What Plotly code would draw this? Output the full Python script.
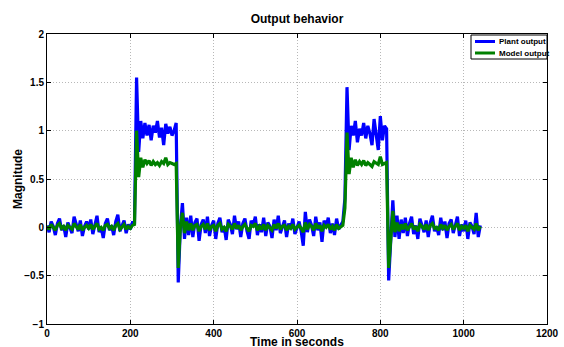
import numpy as np
import plotly.graph_objects as go

# ---- data (sampled every 5 s) ----
STEP = 5

plant_base1 = [0.02, -0.05, 0.06, 0.01, -0.08, 0.04, 0.09, -0.03, 0.02, -0.10,
               0.05, 0.00, -0.06, 0.11, 0.03, -0.04, 0.07, -0.09, 0.01, 0.06,
               -0.02, 0.08, -0.07, 0.03, 0.12, -0.05, 0.00, -0.11, 0.04, 0.09,
               -0.03, 0.02, -0.08, 0.06, 0.13, -0.04, 0.01, 0.07, -0.06, 0.03,
               -0.02, 0.05]
plant_high1 = [0.05, 1.55, 0.78, 1.10, 0.92, 1.08, 0.95, 1.06, 0.90, 1.05,
               0.98, 1.10, 0.93, 1.03, 0.85, 1.07, 0.97, 1.04, 0.95, 1.00,
               1.08]
plant_base2 = [-0.57, 0.00, 0.25, -0.12, 0.10, -0.08, 0.12, -0.10, 0.05, 0.09,
               -0.14, 0.03, 0.08, -0.06, 0.11, -0.09, 0.02, 0.07, -0.12, 0.04,
               0.10, -0.05, 0.01, -0.13, 0.08, 0.03, -0.07, 0.12, -0.02, 0.06,
               -0.10, 0.04, 0.09, -0.04, -0.12, 0.07, 0.02, 0.11, -0.08, 0.03,
               -0.05, 0.10, -0.09, 0.05, 0.01, -0.11, 0.08, -0.03, 0.12, -0.06,
               0.02, 0.07, -0.10, 0.04, -0.02, 0.09, -0.07, 0.01, 0.06, -0.04,
               -0.19, 0.16, -0.05, 0.08, 0.02, -0.09, 0.11, -0.03, 0.05, -0.15,
               0.07, 0.00, 0.10, -0.06, 0.04, -0.08, 0.09, -0.02, 0.03, 0.06]
plant_high2 = [0.30, 1.45, 0.80, 1.05, 0.95, 1.10, 0.88, 1.02, 0.95, 1.08,
               0.92, 1.05, 0.97, 0.85, 1.12, 0.98, 0.80, 1.15, 0.90, 1.05,
               1.02]
plant_base3 = [-0.55, -0.20, 0.28, -0.10, 0.12, -0.12, 0.08, -0.06, 0.10, -0.09,
               0.04, 0.11, -0.07, 0.02, -0.12, 0.09, 0.03, -0.05, 0.07, -0.10,
               0.05, 0.12, -0.04, 0.01, -0.08, 0.10, -0.03, 0.06, -0.11, 0.04,
               0.08, -0.06, 0.02, 0.11, -0.09, 0.03, -0.04, 0.07, -0.12, 0.05,
               0.01, -0.07, 0.15, -0.10, 0.02]

model_base1 = [0.01, -0.02, 0.03, 0.00, -0.03, 0.02, 0.04, -0.01, 0.01, -0.03,
               0.02, 0.00, -0.02, 0.04, 0.01, -0.02, 0.03, -0.03, 0.00, 0.02,
               -0.01, 0.03, -0.02, 0.01, 0.04, -0.02, 0.00, -0.03, 0.02, 0.03,
               -0.01, 0.01, -0.03, 0.02, 0.04, -0.02, 0.00, 0.03, -0.02, 0.01,
               -0.01, 0.02]
model_high1 = [0.03, 1.00, 0.52, 0.72, 0.62, 0.70, 0.66, 0.69, 0.64, 0.68,
               0.65, 0.67, 0.64, 0.68, 0.66, 0.72, 0.65, 0.67, 0.66, 0.65,
               0.66]
model_base2 = [-0.42, 0.00, 0.15, -0.06, 0.06, -0.03, 0.04, -0.03, 0.02, 0.03,
               -0.04, 0.01, 0.03, -0.02, 0.04, -0.03, 0.01, 0.02, -0.04, 0.02,
               0.04, -0.02, 0.00, -0.04, 0.03, 0.01, -0.02, 0.04, -0.01, 0.02,
               -0.03, 0.01, 0.03, -0.01, -0.04, 0.02, 0.01, 0.04, -0.03, 0.01,
               -0.02, 0.03, -0.03, 0.02, 0.00, -0.03, 0.03, -0.01, 0.04, -0.02,
               0.01, 0.02, -0.03, 0.01, -0.01, 0.03, -0.02, 0.00, 0.02, -0.01,
               -0.05, 0.05, -0.02, 0.03, 0.01, -0.03, 0.04, -0.01, 0.02, -0.04,
               0.02, 0.00, 0.03, -0.02, 0.01, -0.03, 0.03, -0.01, 0.01, 0.02]
model_high2 = [0.20, 0.98, 0.55, 0.72, 0.62, 0.70, 0.64, 0.68, 0.65, 0.69,
               0.64, 0.67, 0.65, 0.63, 0.68, 0.66, 0.65, 0.73, 0.65, 0.66,
               0.67]
model_base3 = [-0.42, -0.10, 0.17, -0.05, 0.05, -0.04, 0.03, -0.02, 0.04, -0.03,
               0.01, 0.04, -0.02, 0.01, -0.04, 0.03, 0.01, -0.02, 0.03, -0.03,
               0.02, 0.04, -0.01, 0.00, -0.03, 0.03, -0.01, 0.02, -0.03, 0.01,
               0.03, -0.02, 0.01, 0.04, -0.03, 0.01, -0.01, 0.02, -0.04, 0.02,
               0.00, -0.02, 0.04, -0.03, 0.01]

plant = plant_base1 + plant_high1 + plant_base2 + plant_high2 + plant_base3
model = model_base1 + model_high1 + model_base2 + model_high2 + model_base3
t_plant = STEP * np.arange(len(plant))
t_model = STEP * np.arange(len(model))

series_names = ["Plant output", "Model output"]
series_colors = ["#0000FF", "#008000"]

x_ticks = [0, 200, 400, 600, 800, 1000, 1200]
y_ticks = [-1, -0.5, 0, 0.5, 1, 1.5, 2]
y_labels = ["\u22121", "\u22120.5", "0", "0.5", "1", "1.5", "2"]

FONT = "Liberation Sans, Arial, sans-serif"

fig = go.Figure()
fig.add_trace(go.Scatter(x=t_plant, y=plant, mode="lines", name=series_names[0],
                         line=dict(color=series_colors[0], width=3.2)))
fig.add_trace(go.Scatter(x=t_model, y=model, mode="lines", name=series_names[1],
                         line=dict(color=series_colors[1], width=3.2)))

axis_common = dict(showline=True, linecolor="black", linewidth=1, mirror="ticks",
                   ticks="inside", ticklen=4, tickcolor="black",
                   showgrid=True, gridcolor="#b8b8b8", griddash="1px,2px", gridwidth=1,
                   zeroline=False, automargin=False,
                   tickfont=dict(family=FONT, size=10, color="black", weight="bold"))

fig.update_xaxes(range=[0, 1200], tickvals=x_ticks, ticklabelstandoff=0, **axis_common)
fig.update_yaxes(range=[-1, 2], tickvals=y_ticks, ticktext=y_labels, **axis_common)

# compact MATLAB-style legend box (decoration in paper coordinates)
PW, PH = 500.0, 290.0
def px_x(p):
    return (p - 47) / PW
def px_y(p):
    return (324 - p) / PH

shapes = [dict(type="rect", xref="paper", yref="paper",
               x0=px_x(471), x1=px_x(547), y0=px_y(59), y1=px_y(35),
               line=dict(color="black", width=1), fillcolor="white", layer="above")]
annotations = []
for i, (nm, col) in enumerate(zip(series_names, series_colors)):
    yy = 41.5 + i * 11.5
    shapes.append(dict(type="line", xref="paper", yref="paper",
                       x0=px_x(475), x1=px_x(495), y0=px_y(yy), y1=px_y(yy),
                       line=dict(color=col, width=3), layer="above"))
    annotations.append(dict(text="<b>" + nm + "</b>", xref="paper", yref="paper",
                            x=px_x(497), y=px_y(yy), xanchor="left", yanchor="middle",
                            showarrow=False,
                            font=dict(family=FONT, size=8, color="black")))

annotations += [
    dict(text="<b>Time in seconds</b>", xref="paper", yref="paper",
         x=0.5, y=px_y(341.5), xanchor="center", yanchor="middle", showarrow=False,
         font=dict(family=FONT, size=12, color="black")),
    dict(text="<b>Magnitude</b>", xref="paper", yref="paper",
         x=px_x(18), y=0.5, xanchor="center", yanchor="middle", showarrow=False,
         textangle=-90, font=dict(family=FONT, size=12, color="black")),
]

fig.update_layout(
    width=564, height=347,
    margin=dict(l=47, r=17, t=34, b=23),
    paper_bgcolor="white", plot_bgcolor="white",
    title=dict(text="<b>Output behavior</b>", x=0.5, xref="paper",
               y=1 - 19 / 347, yref="container", yanchor="middle",
               font=dict(family=FONT, size=12, color="black")),
    showlegend=False,
    shapes=shapes,
    annotations=annotations,
)

fig.write_html("out.html", config={"displayModeBar": False},
               post_script="document.body.style.margin='0px';")
